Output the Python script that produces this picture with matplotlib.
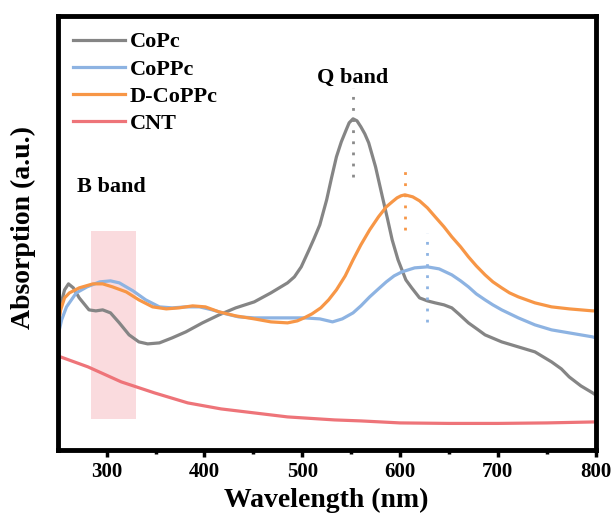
import numpy as np
import matplotlib
matplotlib.use("Agg")
import matplotlib.pyplot as plt

copc_wl = [250, 253, 257, 261, 266, 272, 282, 289, 296, 304, 313, 323, 333, 342, 354, 367,
           381, 398, 415, 432, 451, 468, 485, 492, 499, 507, 512, 518, 525, 530, 535, 540,
           545, 548, 552, 556, 560, 564, 568, 575, 582, 587, 592, 598, 606, 612, 620, 628,
           636, 645, 653, 660, 670, 680, 687, 704, 721, 738, 755, 765, 773, 785, 797, 800]
copc_a = [120, 145, 160, 166, 162, 152, 140, 139, 140, 137, 127, 115, 108, 106, 107, 112,
          118, 127, 135, 142, 148, 157, 167, 173, 183, 200, 211, 225, 250, 272, 293, 308,
          320, 327, 331, 329, 323, 316, 307, 283, 253, 232, 210, 190, 170, 162, 152, 149,
          147, 145, 142, 136, 127, 120, 115, 108, 103, 98, 88, 81, 73, 64, 57, 55]

coppc_wl = [250, 254, 259, 269, 280, 293, 304, 313, 327, 340, 354, 367, 381, 395, 408, 422,
            435, 451, 468, 485, 502, 518, 531, 541, 552, 560, 569, 578, 586, 594, 602, 615,
            628, 640, 653, 662, 670, 678, 687, 695, 704, 721, 738, 755, 773, 797, 800]
coppc_a = [113, 130, 143, 157, 163, 168, 169, 167, 159, 150, 143, 142, 143, 143, 140, 136,
           133, 132, 132, 132, 132, 131, 128, 131, 137, 144, 153, 161, 168, 174, 178, 182,
           183, 181, 175, 169, 163, 156, 150, 145, 140, 132, 125, 120, 117, 113, 112]

dcoppc_wl = [250, 253, 257, 262, 272, 286, 296, 306, 320, 333, 347, 361, 374, 388, 401, 415,
             432, 451, 468, 485, 495, 502, 510, 519, 527, 535, 544, 552, 560, 569, 578, 586,
             592, 597, 601, 605, 609, 613, 620, 628, 636, 645, 653, 662, 670, 678, 687, 695,
             704, 712, 721, 738, 755, 773, 797, 800]
dcoppc_a = [122, 140, 152, 157, 162, 166, 166, 163, 158, 150, 143, 141, 142, 144, 143, 138,
            134, 131, 128, 127, 129, 132, 136, 142, 150, 160, 174, 190, 205, 220, 233, 243,
            248, 252, 254, 255, 254, 253, 249, 242, 233, 223, 213, 203, 193, 184, 175, 168,
            162, 157, 153, 147, 143, 141, 139, 139]

cnt_wl = [250, 281, 315, 349, 383, 417, 451, 485, 533, 560, 600, 650, 700, 750, 800]
cnt_a = [94, 83, 68, 57, 47, 41, 37, 33, 30, 29, 27, 26.5, 26.5, 27, 28]

# peak markers: (wavelength, low, high, colour)
peak_marks = [(552, 273, 362, "#8a8a8a"), (605, 220, 285, "#f79646"), (628, 128, 217, "#8db3e2")]
b_band = (284, 330, 31, 219)

plt.rcParams["font.family"] = ["Liberation Serif", "DejaVu Serif"]
plt.rcParams["font.weight"] = "bold"

fig = plt.figure(figsize=(6.14, 5.25), dpi=100)
ax = fig.add_axes([0.094, 0.143, 0.876, 0.826])
ymax = 433.5

ax.axvspan(b_band[0], b_band[1], ymin=b_band[2] / ymax, ymax=b_band[3] / ymax,
           color="#f9d3d6", alpha=0.8, lw=0, zorder=0)

lw = 2.3
ax.plot(copc_wl, copc_a, color="#858585", lw=lw, label="CoPc")
ax.plot(coppc_wl, coppc_a, color="#8db3e2", lw=lw, label="CoPPc")
ax.plot(dcoppc_wl, dcoppc_a, color="#f79646", lw=lw, label="D-CoPPc")
ax.plot(cnt_wl, cnt_a, color="#ee7479", lw=lw, label="CNT")

for wl, lo, hi, c in peak_marks:
    ax.plot([wl, wl], [lo, hi], color=c, lw=2, ls=(0, (1, 3)))

ax.text(552, 372, "Q band", ha="center", va="center", fontsize=16, fontweight="bold")
ax.text(270, 263, "B band", ha="left", va="center", fontsize=16, fontweight="bold")

ax.set_xlim(250, 800)
ax.set_ylim(0, ymax)
ax.set_xticks([300, 400, 500, 600, 700, 800])
ax.set_xticks([350, 450, 550, 650, 750], minor=True)
ax.set_yticks([])
ax.tick_params(axis="x", which="major", direction="out", length=5, width=2.5,
               labelsize=15, pad=4)
ax.tick_params(axis="x", which="minor", direction="out", length=3, width=2.5)
for lab in ax.get_xticklabels():
    lab.set_fontweight("bold")
for s in ax.spines.values():
    s.set_linewidth(3.5)

ax.set_xlabel("Wavelength (nm)", fontsize=20, fontweight="bold", labelpad=4)
ax.set_ylabel("Absorption (a.u.)", fontsize=20, fontweight="bold")
ax.yaxis.set_label_coords(-0.04, 0.514)

ax.legend(loc="upper left", frameon=False, handlelength=2.35,
          handletextpad=0.2, labelspacing=0.3, borderaxespad=0.3,
          prop={"weight": "bold", "size": 16})

fig.savefig("out.png", dpi=100)
